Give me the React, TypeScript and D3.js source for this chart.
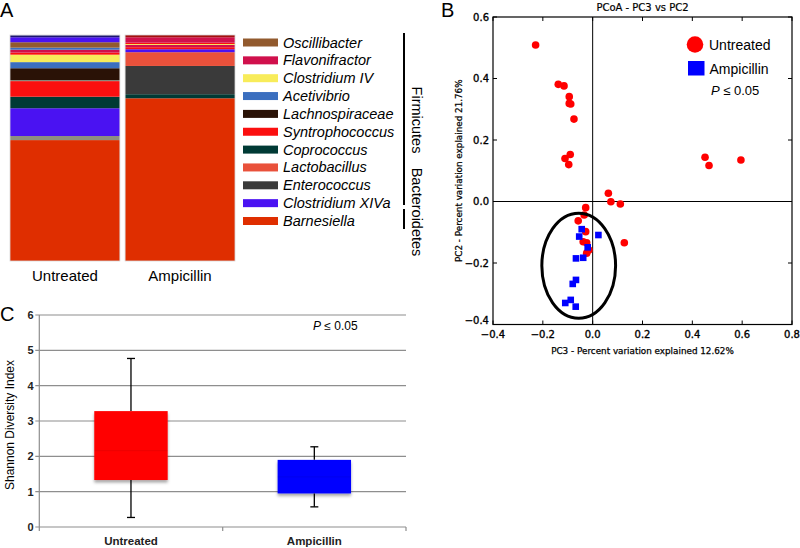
import React from "react";
import * as d3 from "d3";

// ---- panel A: genus composition (percent, bottom to top) ----
const legendTaxa = ["Oscillibacter", "Flavonifractor", "Clostridium IV", "Acetivibrio", "Lachnospiraceae",
  "Syntrophococcus", "Coprococcus", "Lactobacillus", "Enterococcus", "Clostridium XIVa", "Barnesiella"];
const legendColors = ["#925a2e", "#d0104c", "#f8ec5a", "#3b6fbf", "#2a1206", "#fb0f0f", "#003a35",
  "#e9513b", "#3a3a3a", "#4a12f2", "#df2e00"];
const extraTaxa = ["Other", "Unclassified", "Clostridiales"];
const extraColors = ["#8d8f80", "#1c1672", "#a3100f"];

const barGroups = ["Untreated", "Ampicillin"];
const untreatedTaxa = ["Barnesiella", "Other", "Clostridium XIVa", "Coprococcus", "Syntrophococcus", "Other",
  "Lachnospiraceae", "Acetivibrio", "Clostridium IV", "Syntrophococcus", "Flavonifractor", "Acetivibrio",
  "Oscillibacter", "Clostridium XIVa", "Unclassified"];
const untreatedValues = [53.5, 1.8, 12.3, 5.1, 6.9, 0.4, 5.3, 2.7, 3.3, 0.9, 1.3, 0.9, 2.4, 2.2, 0.9];
const ampicillinTaxa = ["Barnesiella", "Coprococcus", "Enterococcus", "Lactobacillus", "Clostridium XIVa",
  "Syntrophococcus", "Flavonifractor", "Clostridium IV", "Syntrophococcus", "Flavonifractor", "Clostridiales"];
const ampicillinValues = [72.0, 1.8, 12.5, 6.1, 1.3, 0.9, 1.0, 0.4, 0.6, 2.4, 1.0];

// ---- panel B: PCoA coordinates ----
const untreatedPC3 = [-0.229, -0.138, -0.115, -0.094, -0.094, -0.088, -0.075, -0.111, -0.090, -0.096, 0.451,
  0.467, 0.595, 0.063, 0.073, 0.111, 0.127, -0.028, -0.034, -0.058, -0.028, -0.038, -0.024, -0.015, -0.024];
const untreatedPC2 = [0.509, 0.381, 0.376, 0.341, 0.319, 0.317, 0.268, 0.140, 0.153, 0.120, 0.144,
  0.117, 0.135, 0.027, -0.001, -0.008, -0.134, -0.020, -0.044, -0.063, -0.098, -0.131, -0.134, -0.158, -0.168];
const ampicillinPC3 = [-0.044, -0.054, -0.020, 0.023, -0.067, -0.038, -0.067, -0.080, -0.110, -0.088, -0.068];
const ampicillinPC2 = [-0.090, -0.114, -0.149, -0.109, -0.185, -0.183, -0.255, -0.268, -0.330, -0.320, -0.342];
const pcTicksX = [-0.4, -0.2, 0.0, 0.2, 0.4, 0.6, 0.8];
const pcTicksY = [-0.4, -0.2, 0.0, 0.2, 0.4, 0.6];

// ---- panel C: Shannon diversity ----
const boxQ1 = [1.33, 0.95];
const boxQ3 = [3.28, 1.90];
const boxMedian = [2.16, 1.42];
const boxLow = [0.27, 0.57];
const boxHigh = [4.77, 2.27];
const boxColors = ["#ff0000", "#0000ff"];
const shannonTicks = [0, 1, 2, 3, 4, 5, 6];

const SANS = "'Liberation Sans', Arial, sans-serif";
const DEJA = "'DejaVu Sans', sans-serif";

const colorOf = (t: string) => {
  const i = legendTaxa.indexOf(t);
  if (i >= 0) return legendColors[i];
  return extraColors[extraTaxa.indexOf(t)];
};

const fmtPC = (v: number) => (v < 0 ? "\u2212" : "") + d3.format(".1f")(Math.abs(v));

// matplotlib text in the source looks a little heavy
const heavy = { stroke: "#000", strokeWidth: 0.35 };

const PanelA = () => {
  const x = d3.scaleBand().domain(barGroups).range([10, 235]).paddingInner(0.045);
  const y = d3.scaleLinear().domain([0, 100]).range([261, 35]);
  const stacks = [
    { taxa: untreatedTaxa, values: untreatedValues },
    { taxa: ampicillinTaxa, values: ampicillinValues },
  ];
  const rowY = d3.scaleLinear().domain([0, legendTaxa.length - 1]).range([42.5, 221]);
  return (
    <g>
      <text x={0} y={17} fontFamily={SANS} fontSize={20}>A</text>
      {stacks.map((s, gi) => {
        const ends = d3.cumsum(s.values);
        return (
          <g key={gi}>
            {s.values.map((v, i) => (
              <rect key={i} x={x(barGroups[gi])} width={x.bandwidth()}
                y={y(ends[i])} height={y(ends[i] - v) - y(ends[i])} fill={colorOf(s.taxa[i])} />
            ))}
            <rect x={x(barGroups[gi])} width={x.bandwidth()} y={y(100)} height={y(0) - y(100)}
              fill="none" stroke="#d8d8d8" strokeWidth={0.8} />
            <text x={(x(barGroups[gi]) as number) + x.bandwidth() / 2} y={281} textAnchor="middle"
              fontFamily={SANS} fontSize={15}>{barGroups[gi]}</text>
          </g>
        );
      })}
      {legendTaxa.map((t, i) => (
        <g key={t}>
          <rect x={243} y={rowY(i) - 4} width={35} height={8} fill={legendColors[i]} />
          <text x={283} y={rowY(i) + 5} fontFamily={SANS} fontStyle="italic" fontSize={14.5}>{t}</text>
        </g>
      ))}
      <line x1={404} x2={404} y1={33} y2={205} stroke="#000" strokeWidth={2} />
      <line x1={404} x2={404} y1={209} y2={229} stroke="#000" strokeWidth={2} />
      <text transform="translate(412,120) rotate(90)" textAnchor="middle" fontFamily={SANS} fontSize={14.5}>Firmicutes</text>
      <text transform="translate(412,212) rotate(90)" textAnchor="middle" fontFamily={SANS} fontSize={14.5}>Bacteroidetes</text>
    </g>
  );
};

const PanelB = () => {
  const x = d3.scaleLinear().domain([-0.4, 0.8]).range([493, 792]);
  const y = d3.scaleLinear().domain([-0.4, 0.6]).range([324.5, 17]);
  const [x0, x1] = x.range();
  const [y0, y1] = y.range();
  const tk = 4;
  return (
    <g>
      <text x={441} y={17} fontFamily={SANS} fontSize={20}>B</text>
      <text x={(x0 + x1) / 2} y={10.5} textAnchor="middle" fontFamily={DEJA} fontSize={10} {...heavy} strokeWidth={0.2}>PCoA - PC3 vs PC2</text>
      <line x1={x(0)} x2={x(0)} y1={y1} y2={y0} stroke="#000" strokeWidth={1} />
      <line x1={x0} x2={x1} y1={y(0)} y2={y(0)} stroke="#000" strokeWidth={1} />
      <rect x={x0} y={y1} width={x1 - x0} height={y0 - y1} fill="none" stroke="#000" strokeWidth={1.2} />
      {pcTicksX.map((t) => (
        <g key={"x" + t}>
          <line x1={x(t)} x2={x(t)} y1={y0} y2={y0 - tk} stroke="#000" />
          <line x1={x(t)} x2={x(t)} y1={y1} y2={y1 + tk} stroke="#000" />
          <text x={x(t)} y={337.5} textAnchor="middle" fontFamily={DEJA} fontSize={10} {...heavy}>{fmtPC(t)}</text>
        </g>
      ))}
      {pcTicksY.map((t) => (
        <g key={"y" + t}>
          <line x1={x0} x2={x0 + tk} y1={y(t)} y2={y(t)} stroke="#000" />
          <line x1={x1} x2={x1 - tk} y1={y(t)} y2={y(t)} stroke="#000" />
          <text x={489} y={t === -0.4 ? y(t) - 1 : y(t) + 3.5} textAnchor="end" fontFamily={DEJA} fontSize={10} {...heavy}>{fmtPC(t)}</text>
        </g>
      ))}
      <text x={(x0 + x1) / 2} y={354} textAnchor="middle" fontFamily={DEJA} fontSize={8.8} {...heavy} strokeWidth={0.25}>PC3 - Percent variation explained 12.62%</text>
      <text transform={`translate(462,${(y0 + y1) / 2}) rotate(-90)`} textAnchor="middle" fontFamily={DEJA} fontSize={8.8} {...heavy} strokeWidth={0.25}>PC2 - Percent variation explained 21.76%</text>
      {untreatedPC3.map((v, i) => (
        <circle key={"u" + i} cx={x(v)} cy={y(untreatedPC2[i])} r={3.8} fill="#f00" />
      ))}
      {ampicillinPC3.map((v, i) => (
        <rect key={"a" + i} x={x(v) - 3.3} y={y(ampicillinPC2[i]) - 3.3} width={6.6} height={6.6} fill="#00f" />
      ))}
      <ellipse cx={x(-0.056)} cy={y(-0.209)} rx={x(0.148) - x(0)} ry={y(0) - y(0.171)}
        fill="none" stroke="#000" strokeWidth={3} />
      <circle cx={695} cy={44.5} r={8.3} fill="#f00" />
      <text x={709} y={49.5} fontFamily={SANS} fontSize={14}>Untreated</text>
      <rect x={688} y={61} width={16.5} height={14.5} fill="#00f" />
      <text x={709.5} y={73.5} fontFamily={SANS} fontSize={14}>Ampicillin</text>
      <text x={711} y={95} fontFamily={SANS} fontSize={13}>
        <tspan fontStyle="italic">P</tspan> ≤ 0.05
      </text>
    </g>
  );
};

const PanelC = () => {
  const x = d3.scalePoint().domain(barGroups).range([39.3, 406]).padding(0.5);
  const y = d3.scaleLinear().domain([0, 6]).range([527, 315]);
  const bw = 73.4;
  const grid = "#8e8e8e";
  return (
    <g>
      <defs>
        <filter id="shadow" x="-20%" y="-20%" width="140%" height="150%">
          <feDropShadow dx={0} dy={2.5} stdDeviation={1.5} floodColor="#000" floodOpacity={0.35} />
        </filter>
      </defs>
      <text x={0} y={321} fontFamily={SANS} fontSize={20}>C</text>
      {shannonTicks.map((t) => (
        <g key={t}>
          <line x1={35.3} x2={406} y1={y(t)} y2={y(t)} stroke={grid} strokeWidth={1.2} />
          <text x={33.5} y={y(t) + 4} textAnchor="end" fontFamily={SANS} fontWeight="bold" fontSize={11} fill="#222">{t}</text>
        </g>
      ))}
      <line x1={39.3} x2={39.3} y1={y(6)} y2={y(0)} stroke={grid} strokeWidth={1.2} />
      {[39.3, 222.7, 406].map((v) => (
        <line key={v} x1={v} x2={v} y1={y(0)} y2={y(0) + 4} stroke={grid} strokeWidth={1.2} />
      ))}
      <text transform={`translate(14,${(y(0) + y(6)) / 2 + 4}) rotate(-90)`} textAnchor="middle"
        fontFamily={SANS} fontSize={12}>Shannon Diversity Index</text>
      {barGroups.map((g, i) => {
        const cx = x(g) as number;
        return (
          <g key={g}>
            <rect x={cx - bw / 2} width={bw} y={y(boxQ3[i])} height={y(boxQ1[i]) - y(boxQ3[i])}
              fill={boxColors[i]} filter="url(#shadow)" />
            <line x1={cx - bw / 2} x2={cx + bw / 2} y1={y(boxMedian[i])} y2={y(boxMedian[i])}
              stroke="#000" strokeOpacity={0.06} strokeWidth={1.2} />
            <line x1={cx} x2={cx} y1={y(boxHigh[i])} y2={y(boxQ3[i])} stroke="#000" strokeWidth={1.3} />
            <line x1={cx} x2={cx} y1={y(boxQ1[i])} y2={y(boxLow[i])} stroke="#000" strokeWidth={1.3} />
            <line x1={cx - 4} x2={cx + 4} y1={y(boxHigh[i])} y2={y(boxHigh[i])} stroke="#000" strokeWidth={1.3} />
            <line x1={cx - 4} x2={cx + 4} y1={y(boxLow[i])} y2={y(boxLow[i])} stroke="#000" strokeWidth={1.3} />
            <text x={cx} y={545} textAnchor="middle" fontFamily={SANS} fontWeight="bold" fontSize={11.5} fill="#222">{g}</text>
          </g>
        );
      })}
      <text x={313} y={330} fontFamily={SANS} fontSize={12}>
        <tspan fontStyle="italic">P</tspan> ≤ 0.05
      </text>
    </g>
  );
};

export default function App() {
  return (
    <svg width={800} height={548} viewBox="0 0 800 548"
      style={{ position: "absolute", left: 0, top: 0, background: "#fff" }}>
      <PanelA />
      <PanelB />
      <PanelC />
    </svg>
  );
}
